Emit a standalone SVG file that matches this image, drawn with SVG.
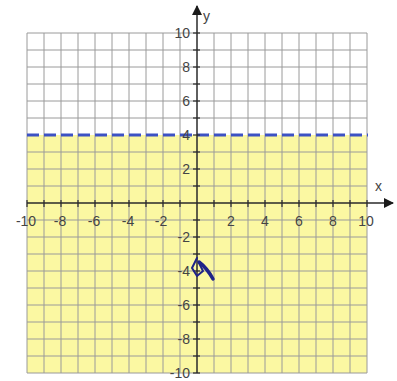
<svg xmlns="http://www.w3.org/2000/svg" width="397" height="381" viewBox="0 0 397 381">
<defs>
<style>
.grid line{stroke:#9a9a9a;stroke-width:1}
.ax{stroke:#2a2a2a;stroke-width:1.5}
.tk line{stroke:#2a2a2a;stroke-width:1.2}
text{font-family:"Liberation Sans",Arial,sans-serif;font-size:14px;fill:#444}
.xl text{text-anchor:middle}
.yl text{text-anchor:end}
</style>
<marker id="ah" viewBox="0 0 10 10" refX="9" refY="5" markerWidth="10" markerHeight="10" markerUnits="userSpaceOnUse" orient="auto">
<path d="M0,0 L10,5 L0,10 z" fill="#1a1a1a"/>
</marker>
</defs>
<rect width="397" height="381" fill="#ffffff"/>
<rect id="shade" x="27" y="135" width="340" height="238" fill="#fbf8a2"/>
<g id="grid" class="grid">
<line x1="27" y1="33" x2="27" y2="373"/><line x1="44" y1="33" x2="44" y2="373"/><line x1="61" y1="33" x2="61" y2="373"/><line x1="78" y1="33" x2="78" y2="373"/><line x1="95" y1="33" x2="95" y2="373"/><line x1="112" y1="33" x2="112" y2="373"/><line x1="129" y1="33" x2="129" y2="373"/><line x1="146" y1="33" x2="146" y2="373"/><line x1="163" y1="33" x2="163" y2="373"/><line x1="180" y1="33" x2="180" y2="373"/><line x1="214" y1="33" x2="214" y2="373"/><line x1="231" y1="33" x2="231" y2="373"/><line x1="248" y1="33" x2="248" y2="373"/><line x1="265" y1="33" x2="265" y2="373"/><line x1="282" y1="33" x2="282" y2="373"/><line x1="299" y1="33" x2="299" y2="373"/><line x1="316" y1="33" x2="316" y2="373"/><line x1="333" y1="33" x2="333" y2="373"/><line x1="350" y1="33" x2="350" y2="373"/><line x1="367" y1="33" x2="367" y2="373"/>
<line x1="27" y1="33" x2="367" y2="33"/><line x1="27" y1="50" x2="367" y2="50"/><line x1="27" y1="67" x2="367" y2="67"/><line x1="27" y1="84" x2="367" y2="84"/><line x1="27" y1="101" x2="367" y2="101"/><line x1="27" y1="118" x2="367" y2="118"/><line x1="27" y1="152" x2="367" y2="152"/><line x1="27" y1="169" x2="367" y2="169"/><line x1="27" y1="186" x2="367" y2="186"/><line x1="27" y1="220" x2="367" y2="220"/><line x1="27" y1="237" x2="367" y2="237"/><line x1="27" y1="254" x2="367" y2="254"/><line x1="27" y1="271" x2="367" y2="271"/><line x1="27" y1="288" x2="367" y2="288"/><line x1="27" y1="305" x2="367" y2="305"/><line x1="27" y1="322" x2="367" y2="322"/><line x1="27" y1="339" x2="367" y2="339"/><line x1="27" y1="356" x2="367" y2="356"/><line x1="27" y1="373" x2="367" y2="373"/>
</g>
<line id="boundary" x1="27" y1="135" x2="368" y2="135" stroke="#3d52c4" stroke-width="3" stroke-dasharray="12 5"/>
<g id="axes">
<line class="ax" x1="27" y1="203" x2="393" y2="203" marker-end="url(#ah)"/>
<line class="ax" x1="197" y1="373" x2="197" y2="6" marker-end="url(#ah)"/>
<text x="375" y="191">x</text>
<text x="203" y="21">y</text>
</g>
<g id="ticks" class="tk">
<line x1="27" y1="200" x2="27" y2="207"/><line x1="44" y1="200" x2="44" y2="207"/><line x1="61" y1="200" x2="61" y2="207"/><line x1="78" y1="200" x2="78" y2="207"/><line x1="95" y1="200" x2="95" y2="207"/><line x1="112" y1="200" x2="112" y2="207"/><line x1="129" y1="200" x2="129" y2="207"/><line x1="146" y1="200" x2="146" y2="207"/><line x1="163" y1="200" x2="163" y2="207"/><line x1="180" y1="200" x2="180" y2="207"/><line x1="214" y1="200" x2="214" y2="207"/><line x1="231" y1="200" x2="231" y2="207"/><line x1="248" y1="200" x2="248" y2="207"/><line x1="265" y1="200" x2="265" y2="207"/><line x1="282" y1="200" x2="282" y2="207"/><line x1="299" y1="200" x2="299" y2="207"/><line x1="316" y1="200" x2="316" y2="207"/><line x1="333" y1="200" x2="333" y2="207"/><line x1="350" y1="200" x2="350" y2="207"/><line x1="367" y1="200" x2="367" y2="207"/>
<line x1="193" y1="33" x2="200" y2="33"/><line x1="193" y1="50" x2="200" y2="50"/><line x1="193" y1="67" x2="200" y2="67"/><line x1="193" y1="84" x2="200" y2="84"/><line x1="193" y1="101" x2="200" y2="101"/><line x1="193" y1="118" x2="200" y2="118"/><line x1="193" y1="135" x2="200" y2="135"/><line x1="193" y1="152" x2="200" y2="152"/><line x1="193" y1="169" x2="200" y2="169"/><line x1="193" y1="186" x2="200" y2="186"/><line x1="193" y1="220" x2="200" y2="220"/><line x1="193" y1="237" x2="200" y2="237"/><line x1="193" y1="254" x2="200" y2="254"/><line x1="193" y1="271" x2="200" y2="271"/><line x1="193" y1="288" x2="200" y2="288"/><line x1="193" y1="305" x2="200" y2="305"/><line x1="193" y1="322" x2="200" y2="322"/><line x1="193" y1="339" x2="200" y2="339"/><line x1="193" y1="356" x2="200" y2="356"/><line x1="193" y1="373" x2="200" y2="373"/>
</g>
<g id="xlabels" class="xl">
<text x="26" y="226">-10</text><text x="60" y="226">-8</text><text x="94" y="226">-6</text><text x="128" y="226">-4</text><text x="161" y="226">-2</text>
<text x="231" y="226">2</text><text x="265" y="226">4</text><text x="299" y="226">6</text><text x="333" y="226">8</text><text x="366" y="226">10</text>
</g>
<g id="ylabels" class="yl">
<text x="190" y="38">10</text><text x="190" y="72">8</text><text x="190" y="106">6</text><text x="190" y="140">4</text><text x="190" y="174">2</text>
<text x="190" y="242">-2</text><text x="190" y="276">-4</text><text x="190" y="310">-6</text><text x="190" y="344">-8</text><text x="190" y="378">-10</text>
</g>
<g id="scribble" fill="none" stroke="#1f2388" stroke-linecap="round" stroke-linejoin="round">
<path d="M197,258 L192,268 L197,276 L203,271 L199,263" stroke-width="2"/>
<path d="M199,262 Q207,268 213,279" stroke-width="3.5"/>
</g>
</svg>
